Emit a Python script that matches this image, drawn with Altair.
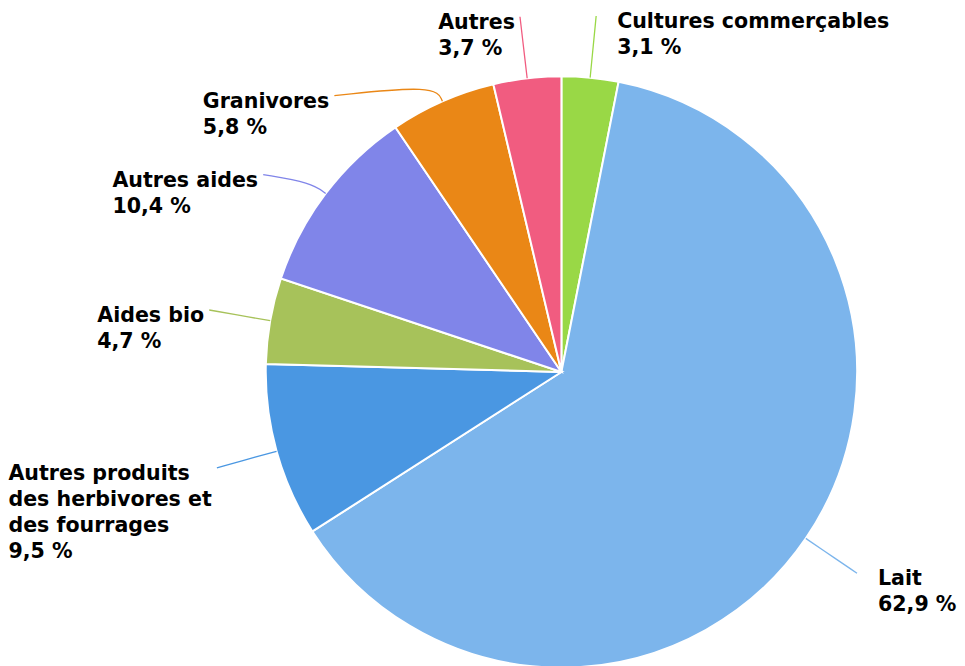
import altair as alt
import pandas as pd
import numpy as np

# ---- data ----
categories = ["Cultures commerçables", "Lait", "Autres produits des herbivores et des fourrages",
              "Aides bio", "Autres aides", "Granivores", "Autres"]
label_lines = [["Cultures commerçables"], ["Lait"], ["Autres produits", "des herbivores et", "des fourrages"],
               ["Aides bio"], ["Autres aides"], ["Granivores"], ["Autres"]]
values = [3.1, 62.9, 9.5, 4.7, 10.4, 5.8, 3.7]
colors = ["#99d846", "#7cb5ec", "#4a97e2", "#a7c25a", "#8085e9", "#ea8716", "#f15c80"]

# ---- layout constants ----
W, H = 949, 658
CX, CY = 554, 364
R = 296
LABEL_R = 358
MIN_GAP = 79
FS = 20.6

# approximate DejaVu Sans Bold advance widths (units per em = 2048) for label sizing
ADV = {"A": 1585, "G": 1684, "C": 1499, "L": 1300, "a": 1382, "b": 1466, "c": 1214, "ç": 1214,
       "d": 1466, "e": 1389, "f": 891, "g": 1466, "h": 1461, "i": 701, "l": 701, "m": 2134,
       "n": 1461, "o": 1407, "p": 1466, "r": 1009, "s": 1219, "t": 979, "u": 1461, "v": 1331,
       " ": 713, ",": 779, "%": 2052}

def text_w(s):
    return sum(ADV.get(ch, 1425) for ch in s) / 2048 * FS

vals = np.array(values, dtype=float)
frac = vals / vals.sum()
start = np.concatenate([[0], np.cumsum(frac)[:-1]])
mid = (start + frac / 2) * 2 * np.pi
order = list(range(len(values)))

def fmt(v):
    return f"{v:.1f}".replace(".", ",") + " %"

ex = CX + R * np.sin(mid)
ey = CY - R * np.cos(mid)
ny = CY - LABEL_R * np.cos(mid)
right = np.sin(mid) >= 0

ly = ny.copy()
for side in (True, False):
    idx = [i for i in range(len(values)) if right[i] == side]
    idx.sort(key=lambda i: ny[i])
    prev = None
    for i in idx:
        if prev is not None and ly[i] < prev + MIN_GAP:
            ly[i] = prev + MIN_GAP
        prev = ly[i]
dx = np.sqrt(np.maximum(LABEL_R**2 - (ly - CY)**2, 0))
lx = np.where(right, CX + dx, CX - dx)

cxp = CX + (R + 18) * np.sin(mid)
cyp = CY - (R + 18) * np.cos(mid)

pie_df = pd.DataFrame({"cat": categories, "val": values, "ord": order})

line_rows = []
for i, c in enumerate(categories):
    pts = [(lx[i], ly[i]), (cxp[i], cyp[i]), (ex[i], ey[i])]
    for k, (px, py) in enumerate(pts):
        line_rows.append({"cat": c, "k": k, "px": px, "py": py})
line_df = pd.DataFrame(line_rows)

lab_rows = []
for i, c in enumerate(categories):
    lines = label_lines[i] + [fmt(values[i])]
    txt = "\n".join(lines)
    multi = len(label_lines[i]) > 1
    if right[i]:
        tx = lx[i] + 21
    else:
        tx = lx[i] - 5 - max(text_w(s) for s in lines)
    ty = ly[i] + 12
    lab_rows.append({"cat": c, "txt": txt, "tx": tx, "ty": ty})
lab_df = pd.DataFrame(lab_rows)

color_scale = alt.Scale(domain=categories, range=colors)

pie = alt.Chart(pie_df).mark_arc(radius=R, stroke="white", strokeWidth=2).encode(
    theta=alt.Theta("val:Q", stack=True),
    order=alt.Order("ord:Q"),
    color=alt.Color("cat:N", scale=color_scale, legend=None),
    x=alt.value(CX), y=alt.value(CY),
)

conn = alt.Chart(line_df).mark_line(interpolate="basis", strokeWidth=1.3).encode(
    x=alt.X("px:Q", scale=None, axis=None),
    y=alt.Y("py:Q", scale=None, axis=None),
    detail="cat:N",
    order="k:Q",
    color=alt.Color("cat:N", scale=color_scale, legend=None),
)

labels = alt.Chart(lab_df).mark_text(
    align="left", font="DejaVu Sans", fontSize=FS, fontWeight="bold", color="#000000",
    lineBreak="\n", lineHeight=26, baseline="alphabetic"
).encode(
    x=alt.X("tx:Q", scale=None, axis=None),
    y=alt.Y("ty:Q", scale=None, axis=None),
    text="txt:N",
)

chart = alt.layer(pie, conn, labels).properties(
    width=W, height=H, padding=0, background="white"
).configure_view(stroke=None)

chart.save("out.html", embed_options={"renderer": "svg", "actions": False})
